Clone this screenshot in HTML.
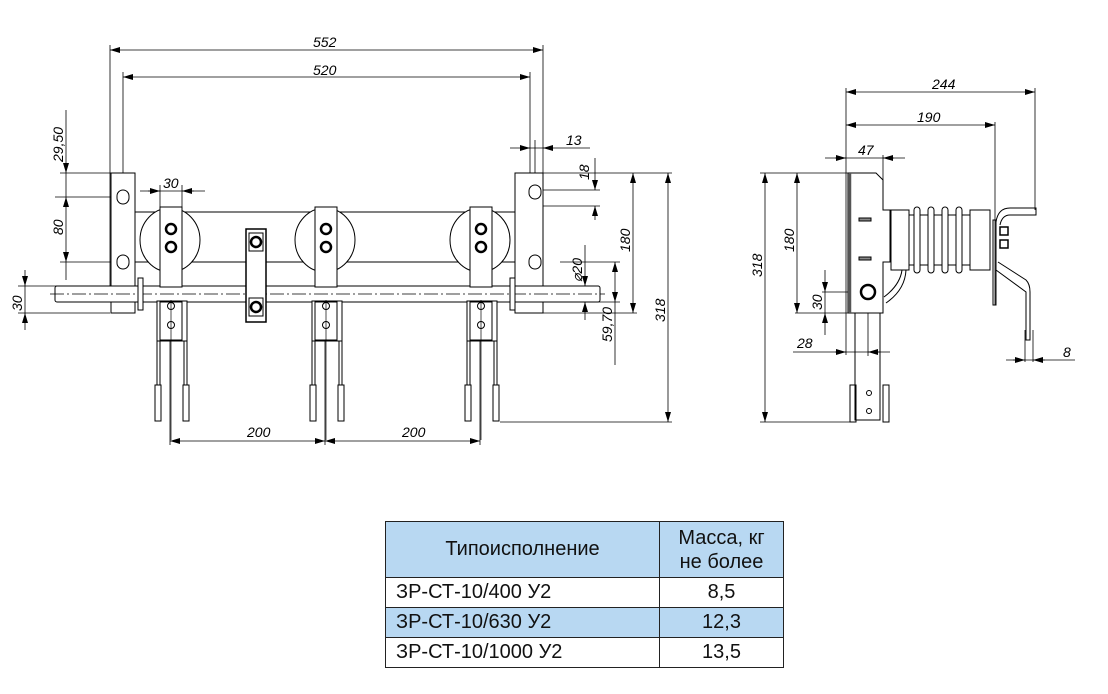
<!DOCTYPE html>
<html><head><meta charset="utf-8"><style>
body{margin:0;background:#fff;width:1108px;height:694px;overflow:hidden;font-family:"Liberation Sans",sans-serif}
svg{position:absolute;left:0;top:0}
table{position:absolute;left:385px;top:521px;border-collapse:collapse;font-family:"Liberation Sans","Noto Sans CJK SC",sans-serif;font-size:20px;color:#111}
td{border:1px solid #222;padding:0 10px;height:29px}
.b{background:#b8d8f2}
</style></head><body>
<svg width="1108" height="694" viewBox="0 0 1108 694" font-family="Liberation Sans" font-style="italic" font-size="14" fill="none" stroke="#000" stroke-width="1">
<defs><marker id="a" markerWidth="10" markerHeight="6" refX="10" refY="3" orient="auto-start-reverse" markerUnits="userSpaceOnUse"><path d="M0,0L10,3L0,6z" fill="#000" stroke="none"/></marker></defs>
<g stroke-width="0.8">
<line x1="110" y1="45" x2="110" y2="290"/><line x1="543" y1="45" x2="543" y2="175"/>
<line x1="110" y1="50" x2="543" y2="50" marker-start="url(#a)" marker-end="url(#a)"/>
<line x1="123" y1="72" x2="123" y2="190"/><line x1="530" y1="72" x2="530" y2="190"/>
<line x1="123" y1="77" x2="530" y2="77" marker-start="url(#a)" marker-end="url(#a)"/>
<line x1="535" y1="140" x2="535" y2="190"/>
<line x1="510" y1="148" x2="590" y2="148"/>
<line x1="520" y1="148" x2="530" y2="148" marker-end="url(#a)"/><line x1="553" y1="148" x2="543" y2="148" marker-end="url(#a)"/>
<line x1="60" y1="173" x2="111" y2="173"/><line x1="55" y1="197" x2="123" y2="197"/><line x1="60" y1="262" x2="123" y2="262"/>
<line x1="66" y1="110" x2="66" y2="173" marker-end="url(#a)"/>
<line x1="66" y1="197" x2="66" y2="262" marker-start="url(#a)" marker-end="url(#a)"/>
<line x1="66" y1="173" x2="66" y2="197"/><line x1="66" y1="262" x2="66" y2="280"/>
<line x1="18" y1="286" x2="60" y2="286"/><line x1="18" y1="313" x2="110" y2="313"/>
<line x1="25" y1="270" x2="25" y2="286" marker-end="url(#a)"/><line x1="25" y1="330" x2="25" y2="313" marker-end="url(#a)"/>
<line x1="25" y1="286" x2="25" y2="313"/>
<line x1="160" y1="185" x2="160" y2="210"/><line x1="182" y1="185" x2="182" y2="210"/>
<line x1="140" y1="191" x2="205" y2="191"/>
<line x1="148" y1="191" x2="160" y2="191" marker-end="url(#a)"/><line x1="194" y1="191" x2="182" y2="191" marker-end="url(#a)"/>
<line x1="540" y1="173" x2="672" y2="173"/><line x1="540" y1="313" x2="637" y2="313"/>
<line x1="540" y1="190" x2="600" y2="190"/><line x1="540" y1="206" x2="600" y2="206"/>
<line x1="595" y1="158" x2="595" y2="190" marker-end="url(#a)"/><line x1="595" y1="220" x2="595" y2="206" marker-end="url(#a)"/>
<line x1="633" y1="173" x2="633" y2="313" marker-start="url(#a)" marker-end="url(#a)"/>
<line x1="668" y1="173" x2="668" y2="422" marker-start="url(#a)" marker-end="url(#a)"/>
<line x1="500" y1="422" x2="672" y2="422"/>
<line x1="560" y1="262" x2="620" y2="262"/><line x1="490" y1="302" x2="620" y2="302"/>
<line x1="615" y1="262" x2="615" y2="302" marker-start="url(#a)" marker-end="url(#a)"/><line x1="615" y1="302" x2="615" y2="365"/>
<line x1="585" y1="245" x2="585" y2="286" marker-end="url(#a)"/><line x1="585" y1="320" x2="585" y2="302" marker-end="url(#a)"/>
<line x1="170" y1="305" x2="170" y2="445"/><line x1="325" y1="305" x2="325" y2="445"/><line x1="480" y1="305" x2="480" y2="445"/>
<line x1="170" y1="441" x2="325" y2="441" marker-start="url(#a)" marker-end="url(#a)"/>
<line x1="325" y1="441" x2="480" y2="441" marker-start="url(#a)" marker-end="url(#a)"/>
</g>
<g fill="#000" stroke="none">
<text x="313" y="47">552</text><text x="313" y="75">520</text><text x="566" y="145">13</text>
<text x="247" y="437">200</text><text x="402" y="437">200</text><text x="163" y="188">30</text>
<text transform="translate(63,162) rotate(-90)">29,50</text>
<text transform="translate(63,235) rotate(-90)">80</text>
<text transform="translate(22,311) rotate(-90)">30</text>
<text transform="translate(589,180) rotate(-90)">18</text>
<text transform="translate(630,252) rotate(-90)">180</text>
<text transform="translate(665,322) rotate(-90)">318</text>
<text transform="translate(612,342) rotate(-90)">59,70</text>
<text transform="translate(582,282) rotate(-90)">⌀20</text>
</g>
<g stroke-width="1">
<rect x="111" y="173" width="24" height="140" fill="#fff"/>
<rect x="515" y="173" width="28" height="140" fill="#fff"/>
<rect x="117" y="190" width="12" height="14" rx="6"/><rect x="117" y="255" width="12" height="14" rx="6"/>
<rect x="529" y="185" width="12" height="14" rx="6"/><rect x="529" y="255" width="12" height="14" rx="6"/>
<line x1="135" y1="212" x2="515" y2="212"/><line x1="135" y1="262" x2="515" y2="262"/>
<ellipse cx="170" cy="240" rx="30" ry="32" fill="#fff"/><ellipse cx="325" cy="240" rx="30" ry="32" fill="#fff"/><ellipse cx="480" cy="240" rx="30" ry="32" fill="#fff"/>
<rect x="55" y="286" width="545" height="16" rx="2" fill="#fff"/>
<line x1="50" y1="294" x2="605" y2="294" stroke-dasharray="14,3,2,3" stroke-width="0.7"/>
<rect x="138" y="278" width="5" height="32" fill="#fff"/><rect x="510" y="278" width="5" height="32" fill="#fff"/>
<g id="p">
<rect x="160" y="207" width="22" height="80" fill="#fff"/>
<circle cx="171" cy="229" r="5" stroke-width="2.5"/><circle cx="171" cy="247" r="5" stroke-width="2.5"/>
<rect x="157" y="301" width="30" height="40" fill="#fff"/>
<rect x="160" y="302" width="22" height="38" fill="#fff"/>
<circle cx="171" cy="306" r="3.5"/><circle cx="171" cy="325" r="3.5"/>
<line x1="171" y1="300" x2="171" y2="440" stroke-width="0.7"/>
<line x1="157" y1="341" x2="157" y2="385"/><line x1="160" y1="341" x2="160" y2="385"/>
<line x1="184" y1="341" x2="184" y2="385"/><line x1="187" y1="341" x2="187" y2="385"/>
<rect x="155" y="385" width="6" height="36" fill="#fff"/><rect x="183" y="385" width="6" height="36" fill="#fff"/>
</g>
<use href="#p" x="155"/><use href="#p" x="310"/>
<rect x="246" y="229" width="20" height="93" fill="#fff" stroke-width="1.5"/>
<rect x="249" y="233" width="14" height="18" stroke-width="1"/><circle cx="256" cy="242" r="5" stroke-width="2.5"/>
<rect x="249" y="298" width="14" height="18"/><circle cx="256" cy="307" r="5" stroke-width="2.5"/>
</g>
<g stroke-width="0.8">
<line x1="846" y1="88" x2="846" y2="355"/>
<line x1="846" y1="92" x2="1035" y2="92" marker-start="url(#a)" marker-end="url(#a)"/><line x1="1035" y1="88" x2="1035" y2="210"/>
<line x1="846" y1="125" x2="995" y2="125" marker-start="url(#a)" marker-end="url(#a)"/><line x1="995" y1="122" x2="995" y2="305"/>
<line x1="825" y1="158" x2="905" y2="158"/><line x1="835" y1="158" x2="846" y2="158" marker-end="url(#a)"/><line x1="894" y1="158" x2="883" y2="158" marker-end="url(#a)"/>
<line x1="883" y1="155" x2="883" y2="180"/>
<line x1="760" y1="173" x2="848" y2="173"/><line x1="760" y1="422" x2="850" y2="422"/>
<line x1="765" y1="173" x2="765" y2="422" marker-start="url(#a)" marker-end="url(#a)"/>
<line x1="797" y1="173" x2="797" y2="313" marker-start="url(#a)" marker-end="url(#a)"/>
<line x1="795" y1="313" x2="848" y2="313"/><line x1="822" y1="292" x2="868" y2="292"/>
<line x1="825" y1="270" x2="825" y2="292" marker-end="url(#a)"/><line x1="825" y1="335" x2="825" y2="313" marker-end="url(#a)"/><line x1="825" y1="292" x2="825" y2="313"/>
<line x1="868" y1="292" x2="868" y2="356"/>
<line x1="793" y1="352" x2="890" y2="352"/><line x1="835" y1="352" x2="846" y2="352" marker-end="url(#a)"/><line x1="880" y1="352" x2="868" y2="352" marker-end="url(#a)"/>
<line x1="1025" y1="330" x2="1025" y2="362"/><line x1="1033" y1="330" x2="1033" y2="362"/>
<line x1="1006" y1="360" x2="1075" y2="360"/><line x1="1013" y1="360" x2="1025" y2="360" marker-end="url(#a)"/><line x1="1045" y1="360" x2="1033" y2="360" marker-end="url(#a)"/>
</g>
<g fill="#000" stroke="none">
<text x="932" y="89">244</text><text x="917" y="122">190</text><text x="858" y="155">47</text>
<text x="797" y="348">28</text><text x="1063" y="357">8</text>
<text transform="translate(762,277) rotate(-90)">318</text>
<text transform="translate(794,252) rotate(-90)">180</text>
<text transform="translate(822,310) rotate(-90)">30</text>
</g>
<g stroke-width="1">
<path d="M848,173 H876 L883,180 V210 H890 V262 H883 V313 H848 Z" fill="#fff"/>
<line x1="850" y1="173" x2="850" y2="313" stroke-width="2.5" stroke="#555"/>
<rect x="859" y="218" width="12" height="3" fill="#888"/><rect x="859" y="257" width="12" height="3" fill="#888"/>
<circle cx="868" cy="292" r="7" stroke-width="2.5"/>
<rect x="855" y="313" width="25" height="107"/>
<rect x="850" y="385" width="6" height="37"/><rect x="883" y="385" width="6" height="37"/>
<circle cx="869" cy="393" r="2.5"/><circle cx="869" cy="411" r="2.5"/>
<path d="M884,297 Q900,285 902,270 M886,303 Q905,290 906,270"/>
<rect x="891" y="210" width="18" height="60" fill="#fff"/>
<rect x="970" y="210" width="20" height="60" fill="#fff"/>
<rect x="909" y="215" width="61" height="50"/>
<rect x="914" y="207" width="6" height="66" rx="3" fill="#fff"/><rect x="928" y="207" width="6" height="66" rx="3" fill="#fff"/>
<rect x="942" y="207" width="6" height="66" rx="3" fill="#fff"/><rect x="956" y="207" width="6" height="66" rx="3" fill="#fff"/>
<rect x="993" y="220" width="3" height="85"/>
<path d="M996,222 Q998,208 1010,208 H1036 V215 H1010 Q1002,215 1000,225 M998,262 L1026,280 Q1030,284 1030,292 V340 H1026 V292 L996,270"/>
<rect x="1000" y="227" width="8" height="8" stroke-width="1.5"/><rect x="1000" y="240" width="8" height="8" stroke-width="1.5"/>
</g>
</svg>
<table>
<tr class="b"><td style="width:253px;height:55px;text-align:center">Типоисполнение</td><td style="width:103px;text-align:center;line-height:24px">Масса, кг<br>не более</td></tr>
<tr><td>ЗР-СТ-10/400 У2</td><td style="text-align:center">8,5</td></tr>
<tr class="b"><td>ЗР-СТ-10/630 У2</td><td style="text-align:center">12,3</td></tr>
<tr><td>ЗР-СТ-10/1000 У2</td><td style="text-align:center">13,5</td></tr>
</table>
</body></html>
